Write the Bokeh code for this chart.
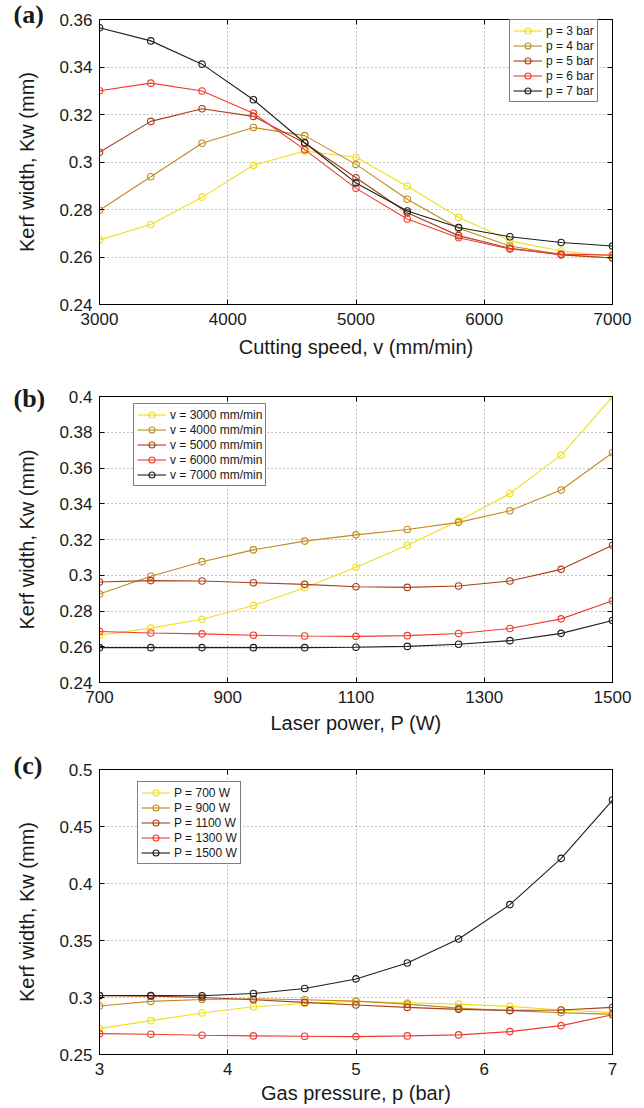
from bokeh.plotting import figure
from bokeh.layouts import column
from bokeh.models import FixedTicker, LinearAxis, Legend, LegendItem, Title, Range1d
from bokeh.embed import file_html
from bokeh.resources import INLINE

# ---------------- data ----------------
# (a) Kerf width vs cutting speed
speed = [3000, 3400, 3800, 4200, 4600, 5000, 5400, 5800, 6200, 6600, 7000]
a_p3 = [0.2672, 0.2737, 0.2852, 0.2986, 0.3046, 0.3020, 0.2898, 0.2767, 0.2668, 0.2625, 0.2603]
a_p4 = [0.2797, 0.2938, 0.3079, 0.3145, 0.3111, 0.2990, 0.2843, 0.2721, 0.2646, 0.2610, 0.2596]
a_p5 = [0.3041, 0.3171, 0.3224, 0.3192, 0.3080, 0.2934, 0.2786, 0.2690, 0.2637, 0.2609, 0.2596]
a_p6 = [0.3300, 0.3332, 0.3299, 0.3205, 0.3052, 0.2889, 0.2760, 0.2681, 0.2634, 0.2612, 0.2608]
a_p7 = [0.3565, 0.3510, 0.3412, 0.3262, 0.3081, 0.2912, 0.2794, 0.2724, 0.2685, 0.2661, 0.2646]
a_labels = ["p = 3 bar", "p = 4 bar", "p = 5 bar", "p = 6 bar", "p = 7 bar"]
a_xticks = [3000, 4000, 5000, 6000, 7000]
a_yticks = [0.24, 0.26, 0.28, 0.30, 0.32, 0.34, 0.36]
a_ytick_labels = ["0.24", "0.26", "0.28", "0.3", "0.32", "0.34", "0.36"]

# (b) Kerf width vs laser power
power = [700, 780, 860, 940, 1020, 1100, 1180, 1260, 1340, 1420, 1500]
b_v3000 = [0.2664, 0.2704, 0.2754, 0.2831, 0.2930, 0.3045, 0.3168, 0.3303, 0.3457, 0.3672, 0.3998]
b_v4000 = [0.2895, 0.2994, 0.3076, 0.3142, 0.3191, 0.3226, 0.3256, 0.3296, 0.3361, 0.3477, 0.3685]
b_v5000 = [0.2962, 0.2970, 0.2968, 0.2958, 0.2949, 0.2936, 0.2932, 0.2940, 0.2968, 0.3033, 0.3168]
b_v6000 = [0.2685, 0.2677, 0.2672, 0.2664, 0.2660, 0.2658, 0.2662, 0.2674, 0.2702, 0.2756, 0.2857]
b_v7000 = [0.2595, 0.2595, 0.2595, 0.2595, 0.2595, 0.2597, 0.2602, 0.2614, 0.2634, 0.2675, 0.2747]
b_labels = ["v = 3000 mm/min", "v = 4000 mm/min", "v = 5000 mm/min", "v = 6000 mm/min", "v = 7000 mm/min"]
b_xticks = [700, 900, 1100, 1300, 1500]
b_yticks = [0.24, 0.26, 0.28, 0.30, 0.32, 0.34, 0.36, 0.38, 0.40]
b_ytick_labels = ["0.24", "0.26", "0.28", "0.3", "0.32", "0.34", "0.36", "0.38", "0.4"]

# (c) Kerf width vs gas pressure
pressure = [3.0, 3.4, 3.8, 4.2, 4.6, 5.0, 5.4, 5.8, 6.2, 6.6, 7.0]
c_P700 = [0.2727, 0.2797, 0.2864, 0.2919, 0.2948, 0.2966, 0.2954, 0.2942, 0.2922, 0.2890, 0.2867]
c_P900 = [0.2925, 0.2966, 0.2983, 0.2989, 0.2980, 0.2968, 0.2942, 0.2907, 0.2884, 0.2867, 0.2852]
c_P1100 = [0.3015, 0.3012, 0.3000, 0.2980, 0.2957, 0.2934, 0.2913, 0.2896, 0.2887, 0.2890, 0.2913]
c_P1300 = [0.2683, 0.2677, 0.2669, 0.2663, 0.2660, 0.2657, 0.2663, 0.2672, 0.2701, 0.2753, 0.2849]
c_P1500 = [0.3018, 0.3018, 0.3015, 0.3035, 0.3079, 0.3163, 0.3303, 0.3513, 0.3815, 0.4220, 0.4732]
c_labels = ["P = 700 W", "P = 900 W", "P = 1100 W", "P = 1300 W", "P = 1500 W"]
c_xticks = [3, 4, 5, 6, 7]
c_yticks = [0.25, 0.30, 0.35, 0.40, 0.45, 0.50]
c_ytick_labels = ["0.25", "0.3", "0.35", "0.4", "0.45", "0.5"]

colors = ["#EEDF1C", "#C38A1E", "#A9401A", "#EE3B2E", "#1E1E1E"]
FONT = "Liberation Sans"


def make_panel(x, ys, labels, xr, yr, xticks, yticks, ylabels, xlabel, tag,
               height, bt, bb, leg_loc, tag_standoff, xlab_standoff):
    p = figure(width=640, height=height, output_backend="svg", toolbar_location=None,
               x_range=Range1d(*xr), y_range=Range1d(*yr),
               min_border_left=99, min_border_right=28, min_border_top=bt, min_border_bottom=bb)
    p.background_fill_color = "white"
    p.border_fill_color = "white"
    p.outline_line_color = "black"
    p.outline_line_width = 1

    items = []
    for y, lab, col in zip(ys, labels, colors):
        r1 = p.line(x, y, line_color=col, line_width=1.1)
        r2 = p.scatter(x, y, marker="circle", size=6.5, fill_color=None, line_color=col, line_width=1.1)
        items.append(LegendItem(label=lab, renderers=[r1, r2]))

    p.xaxis.ticker = FixedTicker(ticks=xticks)
    p.yaxis.ticker = FixedTicker(ticks=yticks)
    p.yaxis.major_label_overrides = {t: s for t, s in zip(yticks, ylabels)}
    for ax in (p.xaxis[0], p.yaxis[0]):
        ax.axis_line_color = "black"
        ax.major_tick_in = 5
        ax.major_tick_out = 0
        ax.major_tick_line_color = "black"
        ax.minor_tick_line_color = None
        ax.major_label_text_font = FONT
        ax.major_label_text_font_size = "17px"
        ax.major_label_text_color = "#1a1a1a"
        ax.axis_label_text_font = FONT
        ax.axis_label_text_font_size = "20px"
        ax.axis_label_text_font_style = "normal"
        ax.axis_label_text_color = "#1a1a1a"
    p.xaxis.axis_label = xlabel
    p.yaxis.axis_label = "Kerf width, Kw (mm)"
    p.xaxis.major_label_standoff = 8
    p.xaxis.axis_label_standoff = xlab_standoff
    p.yaxis.major_label_standoff = 7
    p.yaxis.axis_label_standoff = 18

    for loc, tk in (("right", yticks), ("above", xticks)):
        ax = LinearAxis(ticker=FixedTicker(ticks=tk), major_tick_in=5, major_tick_out=0,
                        minor_tick_line_color=None, axis_line_color="black",
                        major_label_standoff=0, major_label_text_font_size="1px",
                        major_label_overrides={t: "" for t in tk})
        p.add_layout(ax, loc)

    p.grid.grid_line_color = "#8c8c8c"
    p.grid.grid_line_dash = "1 3"
    p.grid.grid_line_width = 1
    p.xgrid.ticker = FixedTicker(ticks=xticks)
    p.ygrid.ticker = FixedTicker(ticks=yticks)

    leg = Legend(items=items, location=leg_loc)
    leg.border_line_color = "black"
    leg.border_line_width = 1.3
    leg.background_fill_color = "white"
    leg.background_fill_alpha = 1
    leg.padding = 3
    leg.spacing = 0
    leg.margin = 0
    leg.glyph_width = 29
    leg.glyph_height = 15
    leg.label_height = 15
    leg.label_standoff = 4
    leg.label_text_font = FONT
    leg.label_text_font_size = "12px"
    leg.label_text_color = "#1a1a1a"
    p.add_layout(leg, "center")

    # panel tag "(a)", "(b)", "(c)" drawn in the top border, left of the frame
    p.add_layout(Title(text=tag, align="left", offset=-86, vertical_align="bottom",
                       standoff=tag_standoff, text_font="Liberation Serif",
                       text_font_style="bold", text_font_size="26px",
                       text_color="#1a1a1a"), "above")
    return p


pa = make_panel(speed, [a_p3, a_p4, a_p5, a_p6, a_p7], a_labels, (3000, 7000), (0.24, 0.36),
                a_xticks, a_yticks, a_ytick_labels, "Cutting speed, v (mm/min)", "(a)",
                372, 19, 68, (410, 202), -19, 8)
pb = make_panel(power, [b_v3000, b_v4000, b_v5000, b_v6000, b_v7000], b_labels, (700, 1500), (0.24, 0.40),
                b_xticks, b_yticks, b_ytick_labels, "Laser power, P (W)", "(b)",
                364, 24, 53, (34, 196), -33, 6)
pc = make_panel(pressure, [c_P700, c_P900, c_P1100, c_P1300, c_P1500], c_labels, (3, 7), (0.25, 0.50),
                c_xticks, c_yticks, c_ytick_labels, "Gas pressure, p (bar)", "(c)",
                370, 33, 51, (38, 190), -21, 4)

layout = column(pa, pb, pc, spacing=0)
open("out.html", "w").write(file_html(layout, INLINE))
